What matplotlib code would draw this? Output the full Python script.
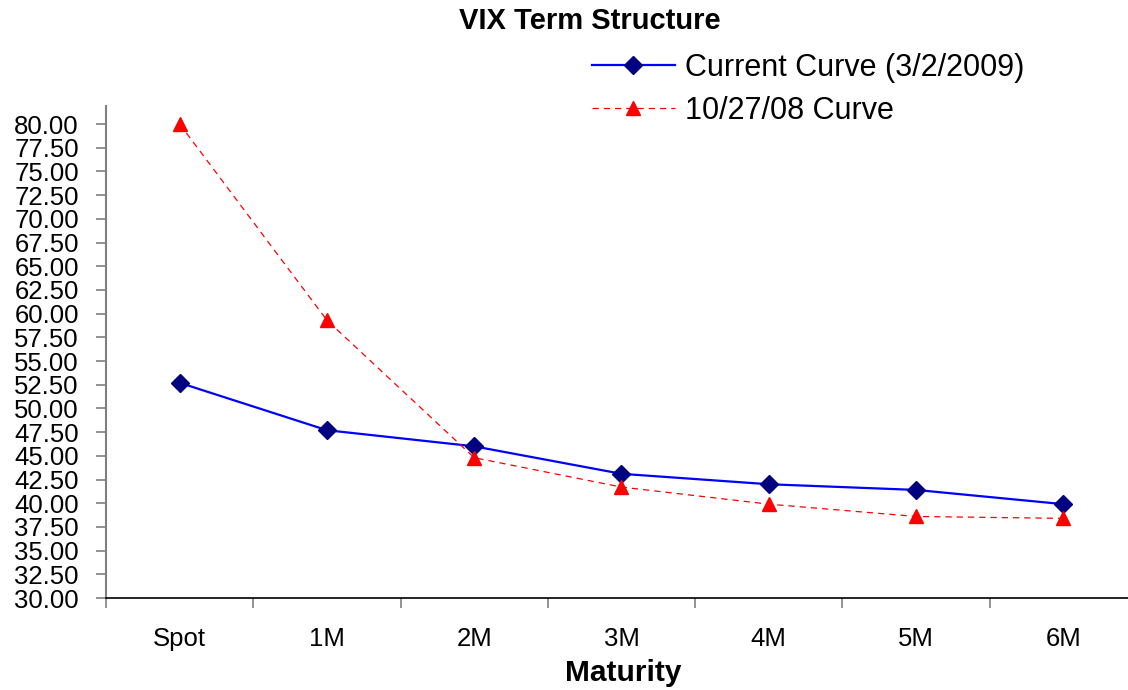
import matplotlib
matplotlib.use("Agg")
import matplotlib.pyplot as plt
from matplotlib.ticker import FixedLocator, NullFormatter

plt.rcParams['font.family'] = ['Liberation Sans', 'DejaVu Sans']

categories = ["Spot", "1M", "2M", "3M", "4M", "5M", "6M"]
current_curve = [52.7, 47.7, 46.0, 43.1, 42.0, 41.4, 39.9]
oct_curve = [80.0, 59.3, 44.8, 41.7, 39.9, 38.6, 38.4]
yticks = [30 + 2.5 * i for i in range(21)]

W, H = 1128, 690
fig = plt.figure(figsize=(W / 100, H / 100), dpi=100)
ax = fig.add_axes([106 / W, 92 / H, 1031 / W, 492 / H])

x = list(range(len(categories)))
ax.plot(x, current_curve, color='#0000FF', lw=1.6, marker='D', ms=9,
        mfc='#000080', mec='#000080', label='Current Curve (3/2/2009)', zorder=3)
ax.plot(x, oct_curve, color='#FF0000', lw=0.9, ls=(0, (5, 4)), marker='^', ms=10,
        mfc='#FF0000', mec='#FF0000', label='10/27/08 Curve', zorder=3)

ax.set_xlim(-0.5, 6.5)
ax.set_ylim(30, 81.9)
ax.set_yticks(yticks)
ax.set_yticklabels([f"{v:.2f}" for v in yticks])
ax.set_xticks(x)
ax.set_xticklabels(categories)
ax.xaxis.set_minor_locator(FixedLocator([i + 0.5 for i in range(-1, 7)]))
ax.xaxis.set_minor_formatter(NullFormatter())
ax.tick_params(axis='x', which='major', length=0, pad=21, labelsize=18.5)
ax.tick_params(axis='x', which='minor', length=7, width=1.2, color='#808080', direction='out')
ax.tick_params(axis='y', length=7, width=1.2, color='#808080', direction='out', labelsize=18.5, pad=12.5)

for s in ['top', 'right']:
    ax.spines[s].set_visible(False)
ax.spines['left'].set_color('#808080')
ax.spines['left'].set_linewidth(1.5)
ax.spines['bottom'].set_color('#000000')
ax.spines['bottom'].set_linewidth(1.2)

fig.text(590 / W, 1 - 21 / H, "VIX Term Structure", ha='center', va='center',
         fontsize=21, fontweight='bold')
fig.text(623 / W, 1 - 673 / H, "Maturity", ha='center', va='center',
         fontsize=21.5, fontweight='bold')

leg = fig.legend(loc='upper left', bbox_to_anchor=(592 / W, 1 - 53 / H), frameon=False,
                 fontsize=22, handlelength=2.7, handletextpad=0.35, labelspacing=0.42,
                 borderpad=0, borderaxespad=0)

fig.savefig("out.png", dpi=100)
